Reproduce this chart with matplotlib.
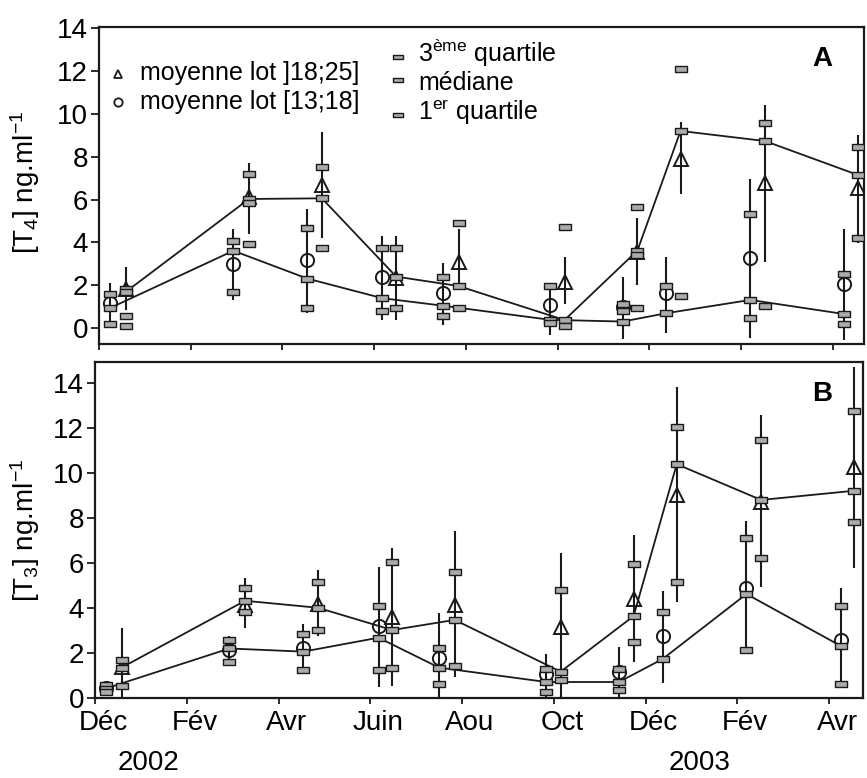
import numpy as np
import matplotlib
matplotlib.use('Agg')
import matplotlib.pyplot as plt
from matplotlib.path import Path
from matplotlib.transforms import ScaledTranslation, blended_transform_factory

plt.rcParams['font.family'] = ['Liberation Sans', 'DejaVu Sans']
plt.rcParams['mathtext.fontset'] = 'custom'
plt.rcParams['mathtext.rm'] = 'Liberation Sans'
plt.rcParams['mathtext.it'] = 'Liberation Sans:italic'
plt.rcParams['mathtext.bf'] = 'Liberation Sans:bold'

nan = np.nan

# ---------------- data ----------------
# sampling dates, in months since 1 Dec 2001 (circle group / triangle group)
dates_c = [0.23, 2.93, 4.54, 6.18, 7.50, 9.84, 11.42, 12.37, 14.20, 16.25]
dates_t = [0.58, 3.27, 4.86, 6.48, 7.84, 10.15, 11.74, 12.68, 14.52, 16.55]

tick_months = [0, 2, 4, 6, 8, 10, 12, 14, 16]
tick_labels = ['Déc', 'Fév', 'Avr', 'Juin', 'Aou', 'Oct', 'Déc', 'Fév', 'Avr']
year_months = [1, 13]
year_labels = ['2002', '2003']

# Panel A : T4, lot [13;18] (circles)
A_c_mean = [1.15, 2.98, 3.18, 2.40, 1.62, 1.07, 1.00, 1.65, 3.26, 2.05]
A_c_q3   = [1.57, 4.08, 4.66, 3.72, 2.40, 1.96, 1.10, 1.96, 5.31, 2.51]
A_c_med  = [0.92, 3.61, 2.31, 1.39, 1.04, 0.38, 0.30, 0.69, 1.31, 0.65]
A_c_q1   = [0.17, 1.67, 0.92, 0.79, 0.56, 0.25, 0.78, nan, 0.45, 0.19]
A_c_ext  = [nan, nan, nan, nan, nan, nan, nan, nan, nan, nan]
A_c_lo   = [0.06, 1.31, 0.72, 0.37, 0.14, -0.35, -0.50, -0.25, -0.45, -0.56]
A_c_hi   = [2.09, 4.61, 5.55, 4.30, 3.02, 2.00, 2.40, 3.33, 6.95, 4.61]

# Panel A : T4, lot ]18;25] (triangles)
A_t_mean = [1.81, 6.14, 6.68, 2.32, 3.10, 2.16, 3.55, 7.88, 6.79, 6.53]
A_t_q3   = [1.80, 7.18, 7.54, 3.72, 4.92, 4.73, 5.67, 12.10, 9.60, 8.47]
A_t_med  = [1.68, 6.03, 6.06, 2.40, 1.96, 0.37, 3.62, 9.21, 8.74, 7.15]
A_t_q1   = [0.56, 3.91, 3.72, 0.92, 0.92, 0.09, 0.92, 1.50, 1.03, 4.19]
A_t_ext  = [0.09, 5.83, nan, nan, nan, nan, 3.41, nan, nan, nan]
A_t_lo   = [0.84, 4.38, 4.19, 0.37, 1.93, 1.12, 2.00, 6.26, 3.10, 3.96]
A_t_hi   = [2.87, 7.69, 9.18, 4.30, 4.61, 3.33, 5.12, 9.64, 10.42, 9.02]

# Panel B : T3, lot [13;18] (circles)
B_c_mean = [0.43, 2.13, 2.21, 3.20, 1.76, 1.07, 1.17, 2.76, 4.87, 2.58]
B_c_q3   = [0.58, 2.58, 2.84, 4.09, 2.21, 1.28, 1.28, 3.81, 7.10, 4.09]
B_c_med  = [0.42, 2.20, 2.06, 2.68, 1.35, 0.71, 0.71, 1.73, 4.62, 2.32]
B_c_q1   = [0.26, 1.59, 1.24, 1.24, 0.62, 0.28, 0.36, nan, 2.12, 0.62]
B_c_ext  = [nan, nan, nan, nan, nan, nan, nan, nan, nan, nan]
B_c_lo   = [0.20, 1.47, 1.10, 0.47, -0.10, 0.06, 0.06, 0.65, 2.01, 0.43]
B_c_hi   = [0.65, 2.77, 3.27, 5.84, 3.79, 1.94, 2.28, 4.77, 7.87, 4.87]

# Panel B : T3, lot ]18;25] (triangles)
B_t_mean = [1.39, 4.13, 4.16, 3.61, 4.13, 3.17, 4.39, 9.02, 8.72, 10.28]
B_t_q3   = [1.69, 4.87, 5.14, 6.03, 5.60, 4.80, 5.94, 12.06, 11.47, 12.77]
B_t_med  = [1.35, 4.32, 4.01, 3.02, 3.47, 1.17, 3.64, 10.39, 8.80, 9.21]
B_t_q1   = [0.53, 3.84, 3.02, 1.32, 1.42, 0.80, 2.48, 5.14, 6.21, 7.81]
B_t_ext  = [nan, nan, nan, nan, nan, nan, nan, nan, nan, nan]
B_t_lo   = [-0.10, 3.13, 2.76, 0.53, 0.92, -0.10, 1.61, 4.28, 4.92, 5.76]
B_t_hi   = [3.10, 5.32, 5.69, 6.65, 7.44, 6.46, 7.24, 13.84, 12.58, 14.72]

legend_means = ['moyenne lot ]18;25]', 'moyenne lot [13;18]']
legend_quart = [r'3$^{\mathregular{ème}}$ quartile', 'médiane',
                r'1$^{\mathregular{er}}$ quartile']

# ---------------- styling ----------------
W, H = 867, 778
INK = '#1a1a1a'
GREY = '#ababab'
RECT = Path([(-1, -0.42), (1, -0.42), (1, 0.42), (-1, 0.42), (-1, -0.42)],
            [Path.MOVETO, Path.LINETO, Path.LINETO, Path.LINETO, Path.CLOSEPOLY])

fig = plt.figure(figsize=(W / 100, H / 100), dpi=100)


def fr(l, t, r, b):
    return [l / W, 1 - b / H, (r - l) / W, (b - t) / H]


def P(x, y):
    return (x / W, 1 - y / H)


axA = fig.add_axes(fr(99, 27, 864, 344))
axB = fig.add_axes(fr(95, 362, 863, 698))
axA.set_xlim(0, 16.68)
axB.set_xlim(0, 16.74)
axA.set_ylim(-0.75, 14.07)
axB.set_ylim(0, 14.93)


def draw_group(ax, dates, mean, q3, med, q1, ext, lo, hi, marker, ms):
    ax.vlines(dates, lo, hi, color=INK, lw=1.5, zorder=2)
    ax.plot(dates, med, '-', color=INK, lw=1.3, zorder=3)
    ax.plot(dates, mean, ls='none', marker=marker, ms=ms, mfc='none',
            mec=INK, mew=1.4, zorder=4)
    for arr in (q3, med, q1, ext):
        ax.plot(dates, arr, ls='none', marker=RECT, ms=8.8, mfc=GREY,
                mec=INK, mew=1.0, zorder=5)


draw_group(axA, dates_c, A_c_mean, A_c_q3, A_c_med, A_c_q1, A_c_ext, A_c_lo, A_c_hi, 'o', 9.5)
draw_group(axA, dates_t, A_t_mean, A_t_q3, A_t_med, A_t_q1, A_t_ext, A_t_lo, A_t_hi, '^', 10.0)
draw_group(axB, dates_c, B_c_mean, B_c_q3, B_c_med, B_c_q1, B_c_ext, B_c_lo, B_c_hi, 'o', 9.5)
draw_group(axB, dates_t, B_t_mean, B_t_q3, B_t_med, B_t_q1, B_t_ext, B_t_lo, B_t_hi, '^', 10.0)

for ax in (axA, axB):
    for s in ax.spines.values():
        s.set_linewidth(1.6)
        s.set_color(INK)
    ax.set_yticks(range(0, 15, 2))
    ax.set_xticks(tick_months)
    ax.tick_params(axis='y', direction='out', length=6, width=1.3,
                   labelsize=20, pad=2, color=INK)
    ax.tick_params(axis='x', direction='out', length=4.5, width=1.3,
                   labelsize=20, pad=4, color=INK)

axA.set_xticklabels([])
axB.set_xticklabels(tick_labels)
off = ScaledTranslation(8 / 100, 0, fig.dpi_scale_trans)
for lab in axB.get_xticklabels():
    lab.set_transform(lab.get_transform() + off)

trans = blended_transform_factory(axB.transData, fig.transFigure)
for m, lab in zip(year_months, year_labels):
    axB.text(m, 1 - 770 / H, lab, transform=trans + off, ha='center',
             va='baseline', fontsize=20)

# y labels
fig.text(*P(25, 182), r'[T$_{\mathregular{4}}$] ng.ml$^{\mathregular{-1}}$',
         rotation=90, ha='center', va='center', fontsize=20)
fig.text(*P(25, 530), r'[T$_{\mathregular{3}}$] ng.ml$^{\mathregular{-1}}$',
         rotation=90, ha='center', va='center', fontsize=20)

# panel letters
fig.text(*P(822, 66), 'A', ha='center', va='baseline', fontsize=20, fontweight='bold')
fig.text(*P(822, 401), 'B', ha='center', va='baseline', fontsize=20, fontweight='bold')

# legend
lm = [('^', 74, 80), ('o', 102, 109)]
for (mk, ym, yb), txt in zip(lm, legend_means):
    axA.plot(*P(118, ym), marker=mk, ms=6, mfc='none', mec=INK, mew=1.3,
             transform=fig.transFigure, clip_on=False)
    fig.text(*P(140, yb), txt, ha='left', va='baseline', fontsize=18)
lq = [(57, 62), (80, 90), (115, 120)]
for (ym, yb), txt in zip(lq, legend_quart):
    axA.plot(*P(398, ym), marker=RECT, ms=7.5, mfc=GREY, mec=INK, mew=1.0,
             transform=fig.transFigure, clip_on=False)
    fig.text(*P(418, yb), txt, ha='left', va='baseline', fontsize=18)

fig.savefig('out.png', dpi=100)
